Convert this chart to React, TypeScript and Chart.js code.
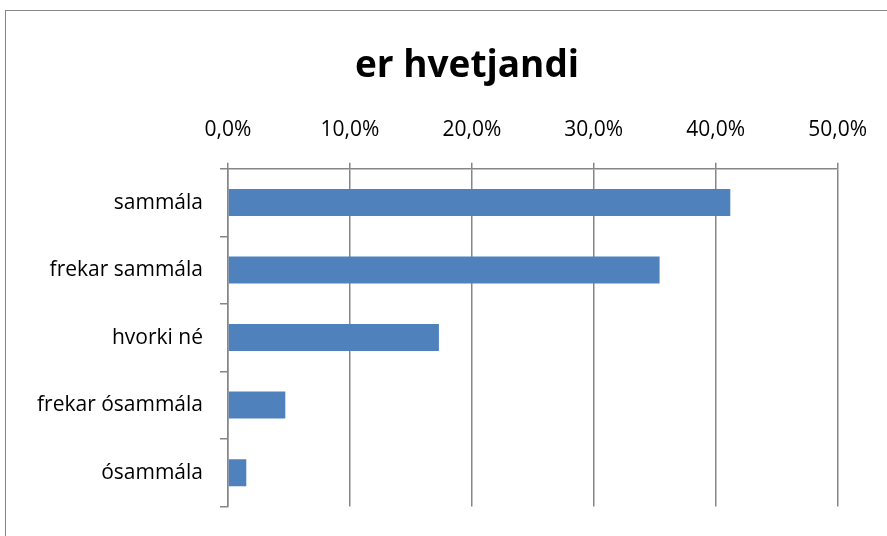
import React, { useEffect, useRef } from "react";
import { Chart, registerables } from "chart.js";

Chart.register(...registerables);

const title = "er hvetjandi";
const categories = ["sammála", "frekar sammála", "hvorki né", "frekar ósammála", "ósammála"];
const values = [41.2, 35.4, 17.3, 4.7, 1.5];
const xTicks = [0, 10, 20, 30, 40, 50];

const GRAY = "#868686";
const BAR = "#4F81BD";

const framePlugin = {
  id: "frame",
  beforeDraw(chart: any) {
    const ctx = chart.ctx;
    ctx.save();
    ctx.fillStyle = "#ffffff";
    ctx.fillRect(0, 0, chart.width, chart.height);
    ctx.strokeStyle = GRAY;
    ctx.lineWidth = 1;
    ctx.strokeRect(5.5, 10.5, chart.width + 20, chart.height + 20);
    ctx.restore();
  },
  afterLayout(chart: any) {
    const tb = chart.titleBlock;
    if (tb) {
      tb.left = 47;
      tb.right = chart.width;
    }
  },
};

export default function App() {
  const ref = useRef<HTMLCanvasElement>(null);
  useEffect(() => {
    document.body.style.margin = "0";
    const chart = new Chart(ref.current!, {
      type: "bar",
      data: {
        labels: categories,
        datasets: [
          {
            data: values,
            backgroundColor: BAR,
            borderWidth: 0,
            barPercentage: 1,
            categoryPercentage: 0.4,
          },
        ],
      },
      plugins: [framePlugin],
      options: {
        indexAxis: "y",
        animation: false,
        responsive: false,
        devicePixelRatio: 1,
        layout: { padding: { left: 0, top: 0, right: 46, bottom: 23 } },
        plugins: {
          legend: { display: false },
          tooltip: { enabled: false },
          title: {
            display: true,
            text: title,
            color: "#000",
            font: { family: "'Open Sans'", size: 37, weight: "bold", lineHeight: 1.2 },
            padding: { top: 44, bottom: 0 },
          },
        },
        scales: {
          x: {
            position: "top",
            min: 0,
            max: 50,
            afterBuildTicks(scale: any) {
              scale.ticks = xTicks.map((v) => ({ value: v }));
            },
            afterFit(scale: any) {
              scale.height = 80.4;
            },
            ticks: {
              color: "#000",
              padding: 20,
              font: { family: "'Open Sans'", size: 21 },
              callback: (v: any) => Number(v).toFixed(1).replace(".", ",") + "%",
            },
            grid: { color: GRAY, lineWidth: 1.5, tickLength: 6, drawTicks: true },
            border: { color: GRAY, width: 1.5 },
          },
          y: {
            afterFit(scale: any) {
              scale.width = 228;
            },
            ticks: {
              color: "#000",
              padding: 17,
              font: { family: "'Open Sans'", size: 21 },
            },
            grid: { color: GRAY, lineWidth: 1.5, tickLength: 8, drawOnChartArea: false, offset: true },
            border: { color: GRAY, width: 1.5 },
          },
        },
      },
    } as any);
    return () => chart.destroy();
  }, []);
  return <canvas ref={ref} width={887} height={536} style={{ display: "block" }} />;
}
